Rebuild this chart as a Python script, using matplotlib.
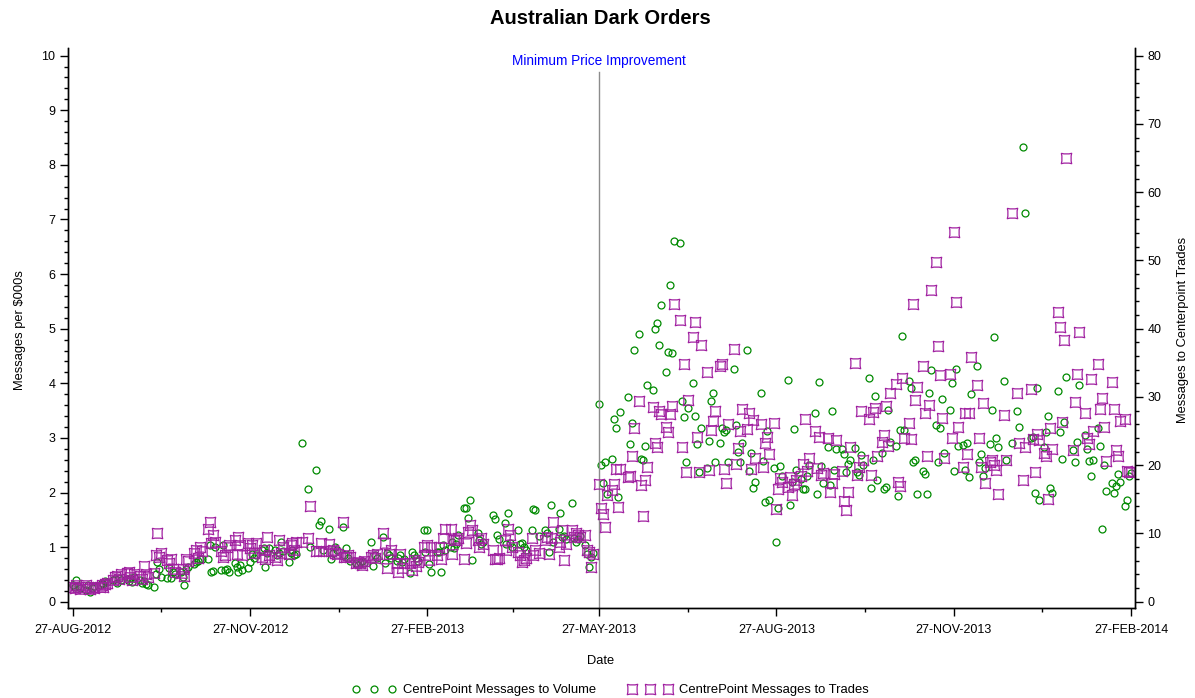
import pandas as pd
import matplotlib
matplotlib.use("Agg")
import matplotlib.pyplot as plt
import matplotlib.dates as mdates
from matplotlib.path import Path
from matplotlib.lines import Line2D
from matplotlib.ticker import MultipleLocator, FixedLocator

plt.rcParams['font.family'] = ['Liberation Sans', 'DejaVu Sans']

# ASX closed on these weekdays
holidays = ["2012-12-25", "2012-12-26", "2013-01-01", "2013-01-28",
            "2013-03-29", "2013-04-01", "2013-04-25", "2013-06-10",
            "2013-12-25", "2013-12-26", "2014-01-01", "2014-01-27"]

# CentrePoint messages per $000s traded (left axis), one value per trading day
vol_aug12 = [0.30, 0.27, 0.40, 0.28, 0.25, 0.22, 0.30, 0.18, 0.26, 0.28,
             0.30, 0.35, 0.32, 0.38, 0.36, 0.40, 0.42, 0.35, 0.44, 0.40,
             0.42, 0.38, 0.44, 0.36, 0.45, 0.40, 0.35, 0.38, 0.32, 0.30,
             0.27, 0.50, 0.72, 0.60, 0.45, 0.44, 0.62, 0.44, 0.55, 0.50,
             0.55, 0.45, 0.30, 0.60, 0.64, 0.69, 0.72, 0.75, 0.79, 0.78,
             0.79, 1.03, 0.54, 0.57, 1.00, 0.58, 1.04, 0.58, 0.60, 0.55,
             0.70, 0.64, 0.55, 0.67, 0.58, 0.62]
vol_nov12 = [0.73, 0.88, 0.80, 0.85,
             0.95, 0.98, 0.64, 0.90, 0.98,
             0.95, 0.85, 0.90, 1.10, 0.92,
             0.72, 0.90, 0.95, 0.85, 0.88,
             2.91, 2.07, 1.00,
             2.42,
             1.40, 1.48, 0.95,
             1.34, 0.79, 0.90, 1.00, 0.95,
             1.37, 0.85, 0.99, 0.80, 0.75,
             0.70, 0.68, 0.72, 0.75, 0.70,
             1.10, 0.65, 0.85, 0.80,
             1.19, 0.70, 0.90, 0.85, 0.80,
             0.75, 0.80, 0.85, 0.72, 0.78,
             0.52, 0.91, 0.85, 0.80, 0.75,
             1.32, 0.91]
vol_feb13 = [1.32, 0.69, 0.55,
             0.91, 0.91, 0.55, 1.04, 0.95,
             1.00, 1.10, 0.98, 1.05, 1.22,
             1.71, 1.71, 1.54, 1.87, 0.76,
             1.25, 1.13, 1.05, 1.10,
             1.59, 1.52, 1.22, 1.15,
             1.45, 1.05, 1.63, 1.07, 1.00,
             1.32, 1.05, 1.08, 1.00, 0.95,
             1.31, 1.69, 1.68, 1.20,
             1.31, 1.26, 0.91, 1.77, 1.10,
             1.34, 1.62, 1.19, 1.20, 1.15,
             1.80, 1.16, 1.10, 1.15, 1.20,
             1.04, 0.88, 0.64, 0.82, 0.90]
vol_may13 = [3.62, 2.50, 2.17, 2.56, 1.98,
             2.61, 3.35, 3.19, 1.92, 3.48,
             3.74, 2.89, 3.28, 4.61,
             4.90, 2.61, 2.59, 2.85, 3.97,
             3.88, 4.99, 5.11, 4.70, 5.43,
             4.20, 4.58, 5.80, 4.56, 6.61,
             6.57, 3.68, 3.38, 2.56, 3.54,
             4.01, 3.40, 2.89, 2.38, 3.19,
             2.44, 2.95, 3.68, 3.83, 2.56,
             2.90, 3.19, 3.11, 3.15, 2.56,
             4.27, 3.24, 2.75, 2.56, 2.91,
             4.61, 2.40, 2.73, 2.08, 2.20,
             3.83, 2.58, 1.83, 3.13, 1.86,
             2.44]
vol_aug13 = [1.10, 1.71, 2.48, 2.30,
             4.06, 1.77, 2.20, 3.17, 2.41,
             2.25, 2.06, 2.06, 2.30, 2.50,
             3.45, 1.97, 4.02, 2.48, 2.17,
             2.83, 2.14, 3.50, 2.42, 2.80,
             2.79, 2.70, 2.37, 2.52, 2.60,
             2.81, 2.38, 2.32, 2.69, 2.50,
             4.09, 2.08, 2.60, 3.77, 2.23,
             2.73, 2.06, 2.10, 3.51, 2.93,
             2.85, 1.94, 3.14, 4.87, 3.15,
             4.05, 3.91, 2.56, 2.60, 1.97,
             2.39, 2.33, 1.97, 3.83, 4.24,
             3.24, 2.56, 3.19, 3.71, 2.72,
             3.52, 4.00]
vol_nov13 = [2.39, 4.27, 2.85,
             2.87, 2.41, 2.90, 2.29, 3.80,
             4.32, 2.56, 2.70, 2.30, 2.45,
             2.89, 3.52, 4.85, 2.99, 2.83,
             4.05, 2.60, 2.90,
             3.49, 3.20, 8.33, 7.11,
             3.00, 3.02, 2.00, 3.91, 1.86,
             2.84, 3.10, 3.41, 2.09, 2.00,
             3.85, 3.10, 2.62, 3.30, 4.12,
             2.78, 2.56, 2.93, 3.97,
             3.05, 2.80, 2.58, 2.30, 2.60,
             3.19, 2.85, 1.34, 2.50, 2.03,
             2.18, 2.00, 2.12, 2.33, 2.20,
             1.75, 1.86, 2.30, 2.35]

# CentrePoint messages per trade (right axis)
trd_aug12 = [2.2, 2.0, 2.4, 2.2, 1.9, 2.4, 2.1, 1.8, 2.2, 2.0,
             2.1, 2.4, 2.2, 2.6, 2.8, 3.2, 3.6, 3.8, 3.4, 4.0,
             4.2, 4.4, 3.6, 3.2, 4.0, 3.8, 3.4, 5.3, 4.0, 3.6,
             4.2, 6.8, 10.0, 6.6, 7.2, 6.1, 5.6, 6.2, 4.8, 4.4,
             4.2, 4.8, 3.7, 6.2, 6.0, 7.2, 7.6, 6.4, 8.0, 7.4,
             10.7, 11.7, 8.6, 9.8, 8.8, 7.4, 6.6, 6.8, 8.0, 8.3,
             9.0, 7.0, 9.5, 8.3, 6.8, 8.6]
trd_nov12 = [7.8, 8.3, 7.2, 8.6,
             6.6, 7.6, 6.2, 9.5, 6.8,
             6.6, 6.1, 9.0, 7.2, 8.0,
             7.0, 8.3, 8.6, 7.6, 8.8,
             8.8, 9.4, 14.0,
             7.4,
             7.4, 8.6, 7.4,
             8.4, 7.4, 7.6, 7.2, 7.0,
             11.7, 6.6, 6.6, 6.8, 6.6,
             5.6, 5.8, 5.6, 5.4, 6.0,
             6.6, 6.8, 6.4, 7.0,
             10.0, 8.6, 4.9, 7.0, 7.6,
             5.6, 4.4, 7.0, 5.0, 5.6,
             5.6, 4.6, 6.1, 5.2, 5.8,
             8.0, 6.8]
trd_feb13 = [8.3, 6.1, 8.0,
             6.8, 8.0, 6.2, 9.3, 10.7,
             10.7, 7.0, 9.0, 9.0, 9.3,
             6.2, 8.6, 10.2, 11.2, 10.5,
             9.0, 8.0, 9.3, 8.4,
             7.6, 6.2, 6.2, 6.4,
             9.0, 7.6, 10.7, 9.8, 8.0,
             7.3, 6.8, 5.8, 6.1, 6.4,
             9.3, 6.8, 7.6, 7.2,
             9.0, 9.5, 7.0, 9.3, 11.7,
             8.0, 8.8, 10.5, 6.1, 8.4,
             10.5, 9.5, 10.0, 9.8, 9.5,
             9.8, 7.6, 7.3, 5.1, 7.0]
trd_may13 = [17.3, 13.8, 12.8, 11.0, 15.6,
             16.4, 17.2, 19.4, 13.9, 19.4,
             18.3, 18.4, 21.4, 25.4,
             29.4, 17.1, 12.6, 17.8, 19.7,
             28.5, 23.2, 22.7, 28.0, 27.5,
             25.6, 24.9, 27.5, 28.6, 43.6,
             41.2, 22.7, 34.8, 19.0, 29.5,
             38.8, 41.0, 24.2, 19.0, 37.6,
             33.7, 19.3, 25.1, 26.5, 27.9,
             34.6, 34.8, 19.4, 17.4, 26.0,
             37.0, 20.2, 22.5, 25.0, 28.3,
             25.3, 27.7, 19.4, 26.6, 21.1,
             26.0, 19.8, 23.2, 24.2, 21.6,
             26.2]
trd_aug13 = [13.6, 16.5, 18.1, 17.6,
             16.8, 18.3, 15.6, 17.2, 17.9,
             18.4, 20.2, 26.7, 19.2, 21.0,
             25.0, 19.6, 24.2, 18.6, 18.8,
             24.0, 16.1, 17.4, 18.7, 23.7,
             19.2, 14.8, 13.4, 16.1, 22.6,
             35.0, 18.6, 19.7, 27.9, 20.7,
             26.7, 18.6, 27.8, 28.4, 21.3,
             23.4, 24.4, 28.6, 22.8, 30.6,
             31.9, 17.6, 16.9, 32.8, 24.0,
             26.2, 23.8, 43.6, 29.6, 31.5,
             34.6, 27.7, 21.4, 28.8, 45.7,
             49.7, 37.4, 33.2, 26.9, 21.0,
             33.3, 24.0]
trd_nov13 = [54.2, 43.9, 25.6,
             19.8, 27.7, 21.6, 27.7, 35.9,
             31.8, 24.0, 19.8, 29.1, 17.4,
             20.4, 20.7, 20.0, 19.3, 15.8,
             27.4, 20.8, 56.9,
             30.6, 23.2, 17.8, 22.6,
             31.1, 23.9, 19.0, 24.6, 23.7,
             21.8, 21.3, 15.0, 25.5, 22.4,
             42.4, 40.3, 26.4, 38.4, 65.0,
             22.3, 29.3, 33.4, 39.5,
             27.7, 24.0, 23.1, 32.7, 25.0,
             34.8, 28.3, 29.9, 25.6, 20.6,
             32.2, 28.3, 22.3, 21.4, 26.5,
             26.8, 19.2, 19.0, 19.0]

tick_dates = ["2012-08-27", "2012-11-27", "2013-02-27", "2013-05-27",
              "2013-08-27", "2013-11-27", "2014-02-27"]
tick_labels = ["27-AUG-2012", "27-NOV-2012", "27-FEB-2013", "27-MAY-2013",
               "27-AUG-2013", "27-NOV-2013", "27-FEB-2014"]
mpi_date = "2013-05-27"

days = pd.bdate_range("2012-08-27", "2014-02-27")
days = days[~days.isin(pd.to_datetime(holidays))]

volume = vol_aug12 + vol_nov12 + vol_feb13 + vol_may13 + vol_aug13 + vol_nov13
trades = trd_aug12 + trd_nov12 + trd_feb13 + trd_may13 + trd_aug13 + trd_nov13
assert len(volume) == len(days) == len(trades), (len(volume), len(trades), len(days))

green = "#008a00"
purple = "#a020a0"

# open square with pinched sides, SAS "star" style symbol
star = Path([(-1, 1), (0, 0.7), (1, 1), (0.7, 0), (1, -1),
             (0, -0.7), (-1, -1), (-0.7, 0), (-1, 1)],
            [Path.MOVETO] + [Path.CURVE3] * 8)

W, H = 1195, 698
fig = plt.figure(figsize=(W / 100, H / 100), dpi=100)
ax = fig.add_axes([68 / W, 1 - 608 / H, (1135 - 68) / W, (608 - 48) / H])
ax2 = ax.twinx()

ax.plot(days, volume, ls="none", marker="o", ms=5, mfc="none", mec=green, mew=0.9)
ax2.plot(days, trades, ls="none", marker=star, ms=7.5, mfc="none", mec=purple, mew=0.9)

# reference line for the rule change
x_mpi = mdates.date2num(pd.Timestamp(mpi_date))
ax.axvline(x_mpi, ymin=0, ymax=0.957, color="#8c8c8c", lw=1)
ax.text(x_mpi, 0.977, "Minimum Price Improvement", color="blue", fontsize=9.8,
        ha="center", va="center", transform=ax.get_xaxis_transform())

x0 = mdates.date2num(pd.Timestamp(tick_dates[0]))
ax.set_xlim(x0 - 2.4, x0 + 551)
ax.set_ylim(-0.115, 10.14)
ax2.set_ylim(-0.115 * 8, 10.14 * 8)

major = [mdates.date2num(pd.Timestamp(d)) for d in tick_dates]
ax.xaxis.set_major_locator(FixedLocator(major))
ax.xaxis.set_minor_locator(FixedLocator([(a + b) / 2 for a, b in zip(major[:-1], major[1:])]))
ax.set_xticklabels(tick_labels)

ax.yaxis.set_major_locator(MultipleLocator(1))
ax.yaxis.set_minor_locator(MultipleLocator(0.2))
ax2.yaxis.set_major_locator(MultipleLocator(10))
ax2.yaxis.set_minor_locator(MultipleLocator(2))

for a in (ax, ax2):
    a.tick_params(which="major", length=6, width=1, labelsize=9, pad=3)
    a.tick_params(which="minor", length=3, width=1)
    a.spines["top"].set_visible(False)
    for s in a.spines.values():
        s.set_linewidth(1)
ax.tick_params(axis="x", which="major", pad=5.5)

ax.set_xlabel("Date", fontsize=9.3)
ax.xaxis.set_label_coords(0.4995, -0.084)
ax.set_ylabel(r"Messages per \$000s", fontsize=9.3)
ax.yaxis.set_label_coords(-0.0394, 0.496)
ax2.set_ylabel("Messages to Centerpoint Trades", fontsize=9.3)
ax2.yaxis.set_label_coords(1.0394, 0.496)

fig.text(0.5025, 1 - 19 / H, "Australian Dark Orders", ha="center", va="center",
         fontsize=14.5, fontweight="bold")

handles = [Line2D([], [], ls="none", marker="o", ms=5, mfc="none", mec=green, mew=0.9),
           Line2D([], [], ls="none", marker=star, ms=7.5, mfc="none", mec=purple, mew=0.9)]
fig.legend(handles, ["CentrePoint Messages to Volume", "CentrePoint Messages to Trades"],
           loc="center", bbox_to_anchor=(0.5 + 13 / W, 1 - 690 / H), ncol=2, frameon=False,
           numpoints=3, handlelength=3.3, handletextpad=0.55, columnspacing=2.5,
           fontsize=9.4, borderpad=0, borderaxespad=0)

fig.savefig("out.png", dpi=100)
